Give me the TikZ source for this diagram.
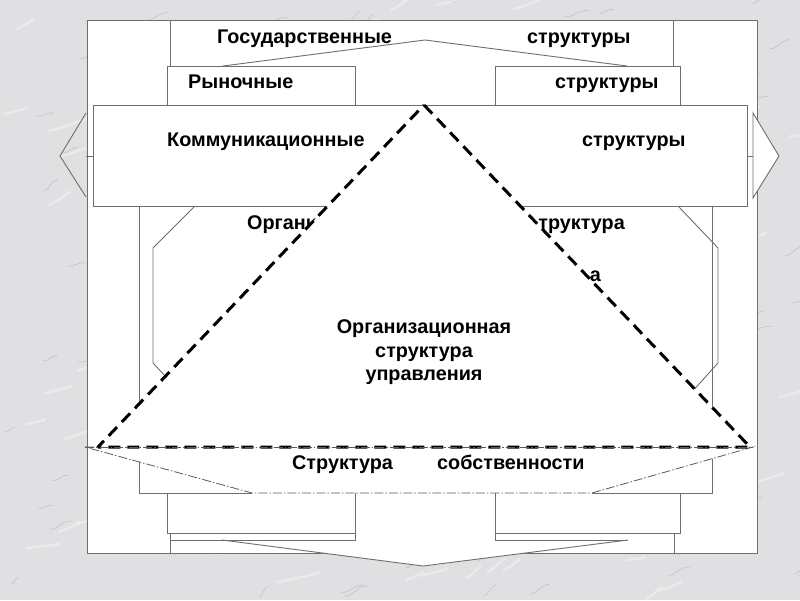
\documentclass[tikz,border=0pt]{standalone}
\usepackage{fontspec}
\setmainfont{Liberation Sans}
\definecolor{bggray}{RGB}{224,224,226}
\definecolor{veingray}{RGB}{150,150,155}
\definecolor{linegray}{RGB}{110,110,110}
\definecolor{ddgray}{RGB}{90,90,90}
\begin{document}
\begin{tikzpicture}[x=1pt,y=-1pt,
  box/.style={draw=linegray, line width=0.9pt},
  wbox/.style={box, fill=white},
  lbl/.style={font=\fontsize{19.8}{24}\selectfont\bfseries, inner sep=0pt, anchor=base west},
  lble/.style={lbl, anchor=base east},
  lblc/.style={lbl, anchor=base},
  tri/.style={draw=black, line width=3pt, dash pattern=on 12pt off 7pt, line join=bevel, fill=white},
  dd/.style={draw=ddgray, line width=0.8pt, dash pattern=on 9pt off 2pt on 1.5pt off 2pt},
  vein/.style={draw=veingray, line width=0.6pt, opacity=0.4},
  wvein/.style={draw=white, line width=2.5pt, opacity=0.35}]
\useasboundingbox (0,0) rectangle (800,600);
% background (marble)
\begin{scope}
\clip (0,0) rectangle (800,600);
\fill[bggray] (0,0) rectangle (800,600);
\pgfmathsetseed{7}
\foreach \i in {1,...,110}{
  \pgfmathsetmacro{\px}{rnd*800}
  \pgfmathsetmacro{\py}{rnd*600}
  \pgfmathsetmacro{\dx}{15+rnd*30}
  \pgfmathsetmacro{\dy}{-14+rnd*10}
  \draw[wvein] (\px,\py) .. controls (\px+\dx*0.4,\py-3) and (\px+\dx*0.7,\py+\dy+3) .. (\px+\dx,\py+\dy);
}
\foreach \i in {1,...,160}{
  \pgfmathsetmacro{\px}{rnd*800}
  \pgfmathsetmacro{\py}{rnd*600}
  \pgfmathsetmacro{\dx}{8+rnd*18}
  \pgfmathsetmacro{\dy}{-10+rnd*8}
  \draw[vein] (\px,\py) .. controls (\px+\dx*0.3,\py+2) and (\px+\dx*0.6,\py+\dy-2) .. (\px+\dx,\py+\dy);
}
\end{scope}
% outer frame
\draw[wbox] (87,20) rectangle (757,553);
% left arrow head
\draw[box] (86,113) -- (60,156) -- (86,197);
\draw[box] (86,156) -- (93,156);
% top level (state structures)
\draw[box] (170,20) -- (170,66);
\draw[box] (673,20) -- (673,66);
\draw[box] (223,66) -- (425,40) -- (627,66);
% market structure boxes
\draw[wbox] (167,66) rectangle (355,105);
\draw[wbox] (495,66) rectangle (680,105);
% organisational structure box
\fill[white] (139,200) rectangle (712,493);
\draw[box] (139,200) -- (139,493) -- (252,493);
\draw[box] (592,493) -- (712,493) -- (712,200);
\draw[box] (195,206) -- (153,248) -- (153,363) -- (180,392);
\draw[box] (678,206) -- (718,248) -- (718,363) -- (682,403);
% communication box
\draw[wbox] (93,105) rectangle (747,206);
\draw[box] (747,156) -- (753,156);
\draw[wbox] (753,113) -- (779,156) -- (753,198) -- cycle;
% lower levels
\draw[box] (167,493) -- (167,533) -- (355,533) -- (355,493);
\draw[box] (495,493) -- (495,533) -- (680,533) -- (680,493);
\fill[white] (222,540) -- (423,566) -- (628,540) -- cycle;
\draw[box] (222,540) -- (423,566) -- (628,540);
\draw[box] (170,533) -- (170,553);
\draw[box] (170,540) -- (355,540) -- (355,533);
\draw[box] (495,533) -- (495,540) -- (627,540);
\draw[box] (674,533) -- (674,553);
% ownership structure
\draw[dd, fill=white] (85,447) -- (753,447) -- (592,493) -- (252,493) -- cycle;
% texts behind the triangle
\node[lbl] (gos) at (217,43) {Государственные};
\node[lbl] (gos2) at (527,43) {структуры};
\node[lbl] (ryn) at (188,88) {Рыночные};
\node[lbl] (ryn2) at (555,88) {структуры};
\node[lbl] (kom) at (167,146) {Коммуникационные};
\node[lbl] (kom2) at (582,146) {структуры};
\node[lbl] (org1) at (247,229) {Органи};
\node[lble] (org2) at (625,229) {труктура};
\node[lble] (org3) at (601,281) {а};
% triangle
\draw[tri] (424,105) -- (750,447) -- (98,447) -- cycle;
\draw[dd] (85,447) -- (753,447);
% texts
\node[lblc] (osu1) at (424,333) {Организационная};
\node[lblc] (osu2) at (424,357) {структура};
\node[lblc] (osu3) at (424,380) {управления};
\node[lbl] (sob1) at (292,469) {Структура};
\node[lbl] (sob2) at (437,469) {собственности};
\end{tikzpicture}
\end{document}
